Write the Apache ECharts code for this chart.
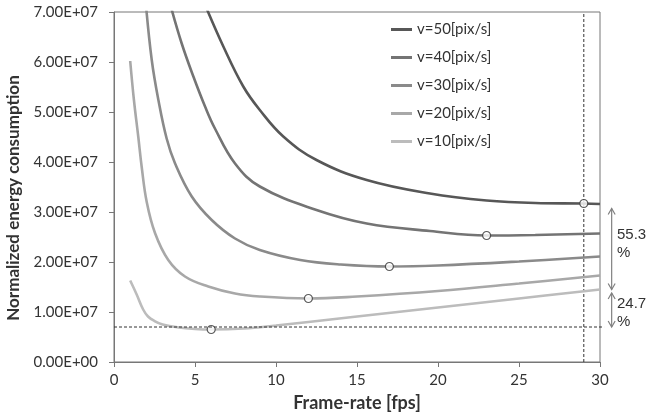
<!DOCTYPE html>
<html><head><meta charset="utf-8">
<script src="https://cdn.jsdelivr.net/npm/echarts@6/dist/echarts.min.js"></script>
<style>html,body{margin:0;padding:0;background:#fff}#c{width:655px;height:420px}</style>
</head><body><div id="c"></div>
<script>
const seriesNames = ['v=50[pix/s]', 'v=40[pix/s]', 'v=30[pix/s]', 'v=20[pix/s]', 'v=10[pix/s]'];
const seriesColors = ['#575757', '#747474', '#8a8a8a', '#a8a8a8', '#bcbcbc'];

const v50x = [5.6, 6.75, 7.98, 9, 10.45, 12.5, 15.6, 19.5, 23, 26, 29, 30];
const v50y = [7.16e7, 6.31e7, 5.51e7, 5.04e7, 4.51e7, 4.04e7, 3.64e7, 3.37e7, 3.23e7, 3.18e7, 3.17e7, 3.16e7];

const v40x = [3.5, 4.18, 4.9, 5.62, 6.23, 7.47, 9, 12.5, 15.6, 19.5, 23, 26, 30];
const v40y = [7.12e7, 6.37e7, 5.71e7, 5.11e7, 4.67e7, 3.97e7, 3.51e7, 3.04e7, 2.77e7, 2.62e7, 2.53e7, 2.54e7, 2.57e7];

const v30x = [1.95, 2.33, 2.74, 3.25, 3.77, 4.8, 6.03, 7.47, 9, 11.5, 14, 17, 20, 25, 30];
const v30y = [7.22e7, 6.04e7, 5.24e7, 4.47e7, 3.97e7, 3.31e7, 2.84e7, 2.47e7, 2.24e7, 2.04e7, 1.95e7, 1.91e7, 1.93e7, 2.01e7, 2.11e7];

const v20x = [1, 1.23, 1.5, 1.71, 2.02, 2.53, 3.35, 4.38, 5.82, 7.47, 9, 12, 15, 20, 25, 30];
const v20y = [6.02e7, 5.24e7, 4.5e7, 3.9e7, 3.2e7, 2.58e7, 2.04e7, 1.71e7, 1.51e7, 1.37e7, 1.31e7, 1.27e7, 1.31e7, 1.42e7, 1.57e7, 1.73e7];

const v10x = [1, 1.4, 1.8, 2.1, 2.5, 3, 4, 5, 6, 8, 10, 12, 15, 20, 25, 30];
const v10y = [1.63e7, 1.35e7, 1.05e7, 0.91e7, 0.82e7, 0.75e7, 0.69e7, 0.66e7, 0.65e7, 0.67e7, 0.73e7, 0.80e7, 0.91e7, 1.09e7, 1.27e7, 1.45e7];

const minX = [29, 23, 17, 12, 6];
const minY = [3.17e7, 2.53e7, 1.91e7, 1.27e7, 0.65e7];

const refLevel = 7.0e6;     // horizontal dashed line
const refRate = 29;         // vertical dashed line
const arrowUpper = [3.07e7, 1.45e7];
const arrowLower = [1.38e7, 0.70e7];
const labelUpper = '55.3\n%';
const labelLower = '24.7\n%';
const labelUpperAt = 2.36e7;
const labelLowerAt = 0.98e7;
const yTitle = 'Normalized energy consumption';
const xTitle = 'Frame-rate [fps]';

const xs = [v50x, v40x, v30x, v20x, v10x];
const ys = [v50y, v40y, v30y, v20y, v10y];

function sci(v) {
  if (v === 0) return '0.00E+00';
  const e = Math.floor(Math.log10(Math.abs(v)) + 1e-9);
  const m = v / Math.pow(10, e);
  return m.toFixed(2) + 'E' + (e < 0 ? '-' : '+') + String(Math.abs(e)).padStart(2, '0');
}

const FONT = 'Lato';
const chart = echarts.init(document.getElementById('c'));
const lineSeries = seriesNames.map((n, i) => ({
  name: n,
  type: 'line',
  smooth: 0.4,
  symbol: 'none',
  clip: true,
  lineStyle: { width: 2.6, color: seriesColors[i] },
  itemStyle: { color: seriesColors[i] },
  data: xs[i].map((x, k) => [x, ys[i][k]]),
  z: 2
}));

chart.setOption({
  animation: false,
  textStyle: { fontFamily: FONT },
  grid: { left: 114, right: 55, top: 12, bottom: 58, show: true, borderColor: '#777', borderWidth: 1 },
  legend: {
    orient: 'vertical',
    left: 391, top: 22, padding: 0,
    icon: 'rect',
    itemWidth: 21, itemHeight: 3, itemGap: 13,
    data: seriesNames,
    textStyle: { fontFamily: FONT, fontSize: 15, color: '#333' }
  },
  xAxis: {
    type: 'value', min: 0, max: 30, interval: 5,
    name: xTitle, nameLocation: 'middle', nameGap: 32,
    nameTextStyle: { fontFamily: FONT, fontSize: 18, fontWeight: 'bold', color: '#333' },
    axisLine: { lineStyle: { color: '#777' } },
    axisTick: { length: 5, lineStyle: { color: '#777' } },
    axisLabel: { fontSize: 15, color: '#333', margin: 11 },
    splitLine: { show: false }
  },
  yAxis: {
    type: 'value', min: 0, max: 7e7, interval: 1e7,
    axisLine: { show: true, lineStyle: { color: '#777' } },
    axisTick: { show: true, length: 5, lineStyle: { color: '#777' } },
    axisLabel: { fontSize: 15, color: '#333', margin: 16, formatter: sci },
    splitLine: { show: false }
  },
  series: lineSeries.concat([{
    name: 'min',
    type: 'scatter',
    symbol: 'circle',
    symbolSize: 8,
    itemStyle: { color: '#fff', borderColor: '#333', borderWidth: 1.2 },
    data: minX.map((x, i) => [x, minY[i]]),
    z: 5
  }])
});

const p = (x, y) => chart.convertToPixel({ gridIndex: 0 }, [x, y]);
const dash = { stroke: '#333', lineWidth: 1, lineDash: [3, 2] };
const arrowStyle = { stroke: '#808080', lineWidth: 1.2, fill: null };
const graphics = [];
const h0 = p(0, refLevel), h1 = p(30.25, refLevel);
graphics.push({ type: 'line', shape: { x1: h0[0], y1: h0[1], x2: h1[0], y2: h1[1] }, style: dash, z: 10 });
const v0 = p(refRate, 0), v1 = p(refRate, 7e7);
graphics.push({ type: 'line', shape: { x1: v0[0], y1: v0[1], x2: v1[0], y2: v1[1] }, style: dash, z: 1 });

function arrow(a, b) {
  const t = p(30.72, a), s = p(30.72, b);
  const x = t[0];
  graphics.push({ type: 'line', shape: { x1: x, y1: t[1], x2: x, y2: s[1] }, style: arrowStyle });
  graphics.push({ type: 'polyline', shape: { points: [[x - 3.5, t[1] + 6], [x, t[1]], [x + 3.5, t[1] + 6]] }, style: arrowStyle });
  graphics.push({ type: 'polyline', shape: { points: [[x - 3.5, s[1] - 6], [x, s[1]], [x + 3.5, s[1] - 6]] }, style: arrowStyle });
}
arrow(arrowUpper[0], arrowUpper[1]);
arrow(arrowLower[0], arrowLower[1]);

function label(txt, at) {
  const t = p(31.05, at);
  graphics.push({ type: 'text', x: t[0], y: t[1], style: { text: txt, fontFamily: 'Liberation Sans', fontSize: 15, fill: '#333', align: 'left', verticalAlign: 'middle', lineHeight: 18 } });
}
label(labelUpper, labelUpperAt);
label(labelLower, labelLowerAt);

// y-axis title
const yc = p(0, 3.5e7);
graphics.push({ type: 'text', x: 14, y: yc[1] + 11, rotation: Math.PI / 2,
  style: { text: yTitle, fontFamily: FONT, fontSize: 17, fontWeight: 'bold', fill: '#333', align: 'center', verticalAlign: 'middle' } });

chart.setOption({ graphic: graphics });
</script>
</body></html>
